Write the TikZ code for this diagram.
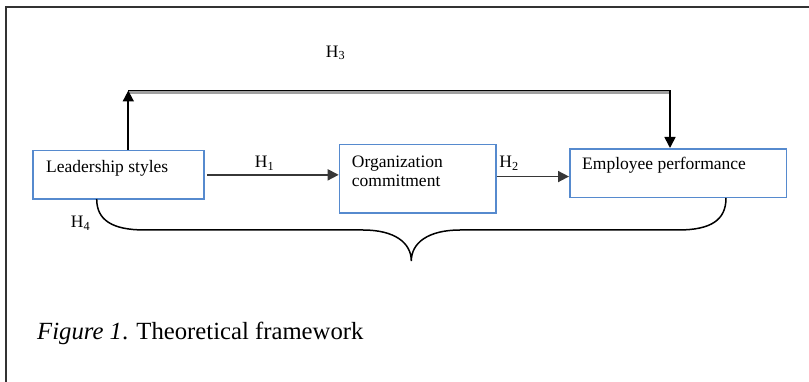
\documentclass[tikz,border=0pt]{standalone}
\usepackage{fontspec}
\setmainfont{Liberation Serif}
\usetikzlibrary{arrows.meta}
\definecolor{boxblue}{RGB}{86,138,206}
\definecolor{framegray}{RGB}{50,50,50}
\definecolor{linegray}{RGB}{55,55,55}
\definecolor{shadowgray}{RGB}{160,160,160}
\tikzset{
  fbox/.style={draw=boxblue, line width=1.7pt, inner sep=0pt},
  boxtext/.style={inner sep=0pt, font=\fontsize{17.5}{19.3}\selectfont, align=left},
  hlabel/.style={inner sep=0pt, font=\fontsize{17.5}{19.3}\selectfont},
  arr/.style={draw=linegray, line width=1.7pt, -{Triangle[length=11pt,width=11pt]}},
  plainline/.style={draw=black, line width=1.5pt},
}
\begin{document}
\begin{tikzpicture}[x=1pt,y=-1pt]
\useasboundingbox (0,0) rectangle (809,382);
% frame
\draw[framegray, line width=2.2pt] (5.7,390) -- (5.7,7.3) -- (815,7.3);
% boxes
\node[fbox, minimum width=170.7pt, minimum height=48.6pt, anchor=north west] (L) at (32.3,149.7) {};
\node[fbox, minimum width=156.3pt, minimum height=68.6pt, anchor=north west] (O) at (338.7,143.7) {};
\node[fbox, minimum width=216.7pt, minimum height=48.7pt, anchor=north west] (E) at (569,148) {};
% box texts
\node[boxtext, anchor=west] (Lt) at (46,168.3) {Leadership styles};
\node[boxtext, anchor=west] (Ot) at (351.7,171.4) {Organization\\commitment};
\node[boxtext, anchor=west] (Et) at (582,165.7) {Employee performance};
% H1, H2 arrows
\draw[arr] ([xshift=2.7pt]L.east) -- (L.east -| O.west);
\draw[arr] ([yshift=2.3pt]O.east) -- ([yshift=2.3pt]O.east -| E.west);
\node[hlabel] (h1) at (264.5,163) {H\textsubscript{1}};
\node[hlabel] (h2) at (509,163) {H\textsubscript{2}};
% H3 connector
\coordinate (ta) at (128.3,90.5);
\coordinate (tb) at (670,90.5);
\draw[shadowgray, line width=2.2pt] ([yshift=-2pt]ta) -- ([yshift=-2pt]tb);
\draw[arr, draw=black] (L.north -| ta) -- (ta);
\draw[plainline] (ta) -- (tb);
\draw[arr, draw=black] (tb) -- (tb |- E.north);
\node[hlabel] (h3) at (335.5,53) {H\textsubscript{3}};
% brace H4
\coordinate (b1) at (96.7,199);
\coordinate (bm) at (411.3,261);
\coordinate (b2) at (726,198);
\draw[black, line width=1.5pt]
  (b1) .. controls (96.7,220) and (112,230) .. (145,230)
  -- (363,230) .. controls (395,230) and (411.3,243) .. (bm)
  .. controls (411.3,243) and (428,230) .. (460,230)
  -- (678,230) .. controls (711,230) and (726,220) .. (b2);
\node[hlabel] (h4) at (80.5,223) {H\textsubscript{4}};
% caption
\node[inner sep=0pt, anchor=west, font=\fontsize{24.7}{28}\selectfont] (cap) at (37,333) {\textit{Figure 1}. Theoretical framework};
\end{tikzpicture}
\end{document}
